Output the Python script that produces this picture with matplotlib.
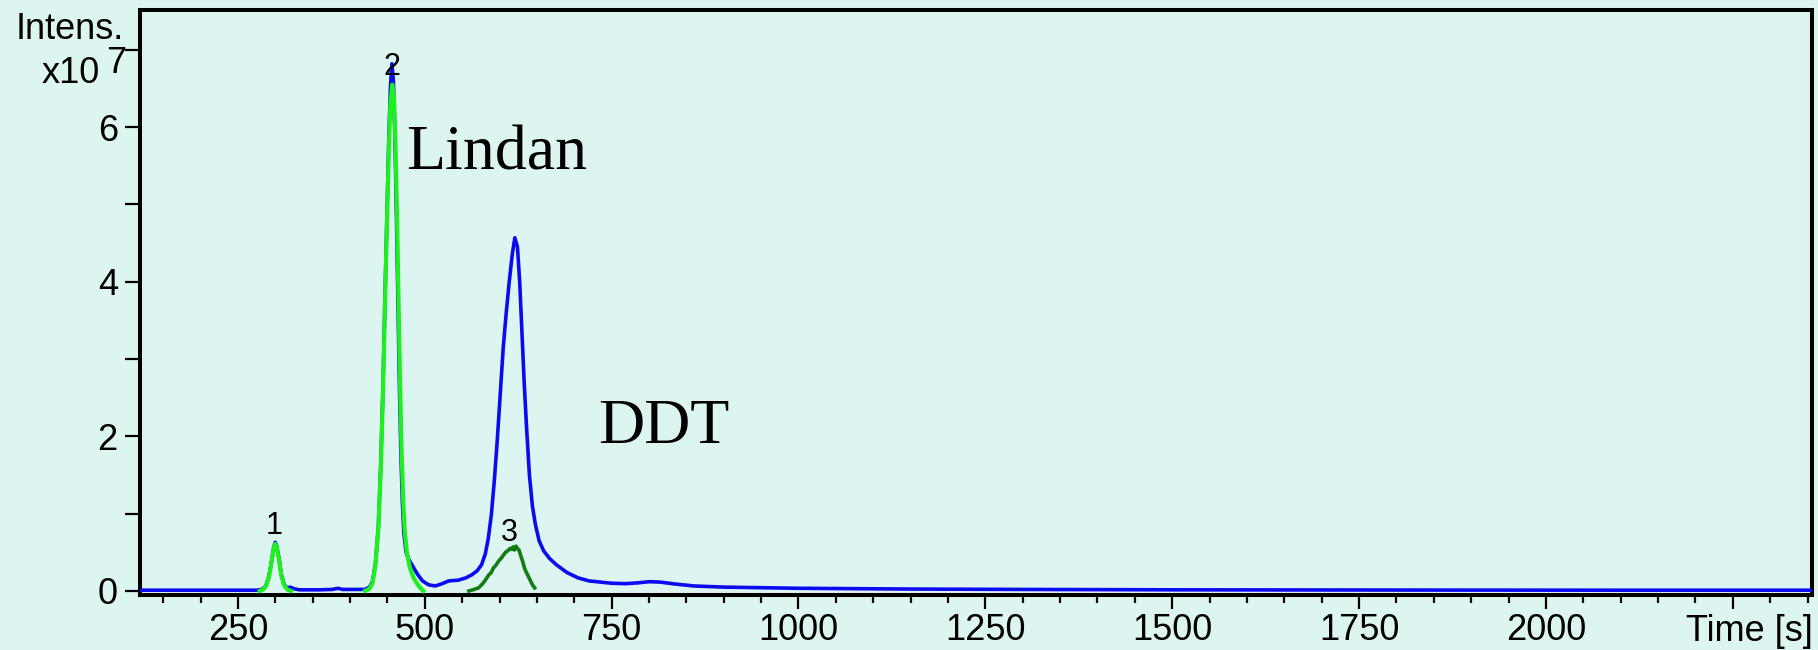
import matplotlib
matplotlib.use("Agg")
import matplotlib.pyplot as plt
from matplotlib.ticker import MultipleLocator

# blue chromatogram (time in s, intensity in units of 1e7)
blue_t = [119, 200, 275, 282, 287, 291, 295, 298, 300, 302, 305, 308, 312, 316, 320, 325,
          332, 360, 376, 384, 390, 420, 426, 430, 434, 438, 441, 444, 447, 450, 452, 454,
          456, 458, 460, 462, 464, 466, 468, 470, 472, 475, 479, 484, 490, 497, 505, 514,
          522, 532, 545, 555, 563, 570, 576, 581, 585, 589, 593, 597, 601, 605, 609, 613,
          617, 620.5, 624, 627, 630, 633, 636, 640, 644, 648, 653, 659, 667, 676, 690, 705,
          720, 735, 750, 769, 785, 800, 815, 835, 860, 900, 1000, 1150, 1300, 1500, 1800,
          2100, 2356]
blue_i = [0.01, 0.01, 0.01, 0.02, 0.06, 0.17, 0.38, 0.57, 0.63, 0.58, 0.42, 0.22, 0.08, 0.04,
          0.05, 0.03, 0.015, 0.015, 0.02, 0.035, 0.02, 0.02, 0.05, 0.12, 0.35, 0.85, 1.6, 2.6,
          3.9, 5.1, 5.9, 6.5, 6.82, 6.6, 5.9, 4.9, 3.8, 2.7, 1.8, 1.15, 0.75, 0.5, 0.4, 0.32,
          0.22, 0.13, 0.08, 0.065, 0.09, 0.13, 0.14, 0.17, 0.21, 0.26, 0.34, 0.48, 0.68, 0.98,
          1.42, 1.95, 2.55, 3.15, 3.6, 4.0, 4.35, 4.57, 4.45, 4.0, 3.35, 2.7, 2.15, 1.5, 1.1,
          0.86, 0.65, 0.52, 0.42, 0.34, 0.24, 0.17, 0.13, 0.115, 0.1, 0.095, 0.105, 0.12,
          0.115, 0.09, 0.065, 0.05, 0.035, 0.025, 0.02, 0.015, 0.012, 0.01, 0.01]

# bright green traces (peaks 1 and 2)
green1_t = [279, 284, 288, 292, 295, 298, 300, 302, 305, 308, 312, 316, 321]
green1_i = [0.0, 0.02, 0.07, 0.2, 0.38, 0.56, 0.61, 0.56, 0.4, 0.2, 0.07, 0.02, 0.0]
green2_t = [420, 426, 430, 434, 438, 441, 444, 447, 450, 452, 454, 456.5, 459, 461, 463, 465,
            467, 469, 471, 473, 476, 480, 485, 490, 494, 498]
green2_i = [0.0, 0.03, 0.1, 0.33, 0.82, 1.55, 2.55, 3.8, 5.0, 5.75, 6.3, 6.55, 6.35, 5.7, 4.8,
            3.7, 2.65, 1.8, 1.2, 0.8, 0.5, 0.3, 0.17, 0.09, 0.04, 0.0]

# dark green trace (peak 3)
dark_t = [559, 566, 572, 577, 581, 585, 589, 592, 595, 599, 602, 605, 608, 611, 614, 616, 618,
          620, 622, 624, 626, 628, 631, 634, 637, 640, 644, 647]
dark_i = [0.0, 0.02, 0.04, 0.09, 0.14, 0.2, 0.24, 0.3, 0.33, 0.39, 0.42, 0.46, 0.5, 0.52, 0.55,
          0.54, 0.57, 0.53, 0.58, 0.55, 0.53, 0.47, 0.38, 0.28, 0.22, 0.16, 0.08, 0.04]

# peak numbers and compound names
peak_labels = ["1", "2", "3"]
peak_t = [298, 456, 613]
peak_i = [0.84, 6.78, 0.75]
names = ["Lindan", "DDT"]
name_t = [475, 732]
name_i = [5.45, 1.91]

x_ticks = [250, 500, 750, 1000, 1250, 1500, 1750, 2000, 2250]
y_ticks = [0, 1, 2, 3, 4, 5, 6, 7]

bg = "#dcf5f0"
sans = "Liberation Sans"
serif = "Liberation Serif"

fig = plt.figure(figsize=(18.18, 6.5), dpi=100, facecolor=bg)
ax = fig.add_axes([140 / 1818, 55 / 650, 1672 / 1818, 585 / 650], facecolor=bg)

ax.plot(blue_t, blue_i, color="#0b0bf0", lw=2.6, zorder=3)
ax.plot(green1_t, green1_i, color="#1ef01e", lw=3.0, zorder=4)
ax.plot(green2_t, green2_i, color="#1ef01e", lw=3.0, zorder=4)
ax.plot(dark_t, dark_i, color="#137c13", lw=2.6, zorder=4)

for lab, t, i in zip(peak_labels, peak_t, peak_i):
    ax.text(t, i, lab, fontsize=22, family=sans, ha="center", va="center", zorder=5)
for lab, t, i in zip(names, name_t, name_i):
    ax.text(t, i, lab, fontsize=46, family=serif, ha="left", va="baseline", zorder=5)

ax.set_xlim(119, 2356)
ax.set_ylim(-0.052, 7.516)

# axes look
for s in ax.spines.values():
    s.set_linewidth(2.9)
ax.set_xticks(x_ticks)
ax.set_xticklabels([str(v) for v in x_ticks[:-1]] + [""])
ax.xaxis.set_minor_locator(MultipleLocator(50))
ax.set_yticks(y_ticks)
ax.set_yticklabels([str(v) if v % 2 == 0 else "" for v in y_ticks])
ax.tick_params(axis="x", which="major", length=10, width=1.6, pad=3, labelsize=26)
ax.tick_params(axis="x", which="minor", length=6, width=1.6)
ax.tick_params(axis="y", which="major", length=11, width=1.6, pad=5, labelsize=26)
for lbl in ax.get_xticklabels() + ax.get_yticklabels():
    lbl.set_family(sans)

# axis captions drawn as figure text
fig.text(124 / 1818, 1 - 39 / 650, "Intens.", fontsize=26, family=sans, ha="right", va="baseline")
fig.text(100 / 1818, 1 - 83 / 650, "x10", fontsize=26, family=sans, ha="right", va="baseline")
fig.text(106 / 1818, 1 - 73 / 650, "7", fontsize=26, family=sans, ha="left", va="baseline")
fig.text(1813 / 1818, 1 - 641 / 650, "Time [s]", fontsize=26, family=sans, ha="right", va="baseline")

fig.savefig("out.png", dpi=100, facecolor=bg)
